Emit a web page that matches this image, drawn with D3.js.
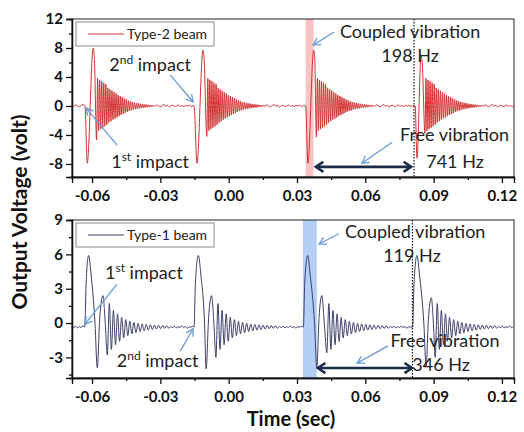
<!DOCTYPE html>
<html>
<head>
<meta charset="utf-8">
<script src="https://cdn.jsdelivr.net/npm/d3@7"></script>
<style>
  body { margin: 0; background: #fff; }
  text { font-family: Lato, "Open Sans", sans-serif; }
</style>
</head>
<body>
<div id="container"></div>
<script>
// ---- axis ticks ----
const xTicks = [-0.06, -0.03, 0.00, 0.03, 0.06, 0.09, 0.12];
const xMinor = [-0.045, -0.015, 0.015, 0.045, 0.075, 0.105];
const yTicksTop = [-8, -4, 0, 4, 8, 12];
const yMinorTop = [-6, -2, 2, 6, 10];
const yTicksBottom = [-3, 0, 3, 6, 9];
const yMinorBottom = [-4.5, -1.5, 1.5, 4.5, 7.5];

// ---- Type-2 beam (top panel), volts vs seconds ----
const type2Starts = [-0.0631, -0.0152, 0.0338, 0.0819];
const type2Swings = [
  [[-0.0631, 0], [-0.0621, -7.9], [-0.0595, 8.0], [-0.0590, 6.8], [-0.0580, -4.7]],
  [[-0.0152, 0], [-0.0139, -7.9], [-0.0113, 7.7], [-0.0108, 6.6], [-0.0096, -4.2]],
  [[0.0338, 0], [0.0348, -7.9], [0.0373, 7.7], [0.0378, 6.6], [0.0385, -4.3]],
  [[0.0819, 0], [0.0827, -7.2], [0.0845, 7.0], [0.0850, 6.0], [0.0862, -3.8]]
];
// ringing peaks after each swing (fast free vibration)
const type2Ring = [3.8, -3.4, 3.6, -3.2, 3.4, -3.0, 3.2, -2.8, 3.0, -2.6,
  2.5, -2.3, 2.3, -2.1, 2.1, -1.9, 1.9, -1.75, 1.75, -1.6,
  1.5, -1.4, 1.35, -1.25, 1.2, -1.1, 1.05, -0.95, 0.9, -0.82,
  0.75, -0.7, 0.65, -0.6, 0.55, -0.5, 0.48, -0.44, 0.42, -0.38,
  0.36, -0.33, 0.3, -0.28, 0.26, -0.24, 0.22, -0.2, 0.19, -0.17,
  0.16, -0.14, 0.13, -0.12];
const type2Noise = [0.1, -0.05, 0.15, 0.0, -0.1, 0.05, 0.2, -0.05, 0.1, -0.15,
  0.05, 0.1, -0.1, 0.0, 0.15, -0.05, 0.05, -0.1, 0.1, 0.0,
  0.12, -0.08, 0.05, 0.15, -0.05, 0.08];
const type2Band = [0.0338, 0.0373];
const type2Dotted = 0.0814;
const type2Span = [0.0383, 0.0801, -8.4];

// ---- Type-1 beam (bottom panel) ----
const type1Starts = [-0.0632, -0.0152, 0.0328, 0.0808];
const type1Swings = [
  [[-0.0632, -0.35], [-0.0626, 3.5], [-0.0615, 5.9], [-0.0604, 4.2], [-0.0587, 0.0], [-0.0577, -3.9],
   [-0.0566, 0.5], [-0.0552, 2.4], [-0.0542, 0.0], [-0.0533, -2.8]],
  [[-0.0152, -0.35], [-0.0146, 3.5], [-0.0133, 5.9], [-0.0122, 4.2], [-0.0106, 0.0], [-0.0099, -4.0],
   [-0.0088, 0.5], [-0.0075, 2.4], [-0.0065, 0.0], [-0.0056, -3.0]],
  [[0.0328, -0.35], [0.0334, 3.5], [0.0347, 5.9], [0.0358, 4.2], [0.0377, 0.0], [0.0387, -3.9],
   [0.0397, 0.5], [0.0409, 2.4], [0.0420, 0.0], [0.0431, -2.6]],
  [[0.0808, -0.35], [0.0814, 3.5], [0.0827, 5.9], [0.0838, 4.2], [0.0857, 0.0], [0.0867, -3.8],
   [0.0877, 0.3], [0.0890, 2.2], [0.0899, 0.0], [0.0907, -3.0]]
];
const type1Ring = [1.7, -2.3, 1.1, -1.9, 0.8, -1.6, 0.5, -1.3, 0.3, -1.1, 0.15, -0.95, 0.05, -0.85,
  -0.02, -0.75, -0.08, -0.68, -0.12, -0.62, -0.15, -0.57, -0.18, -0.53, -0.2, -0.5, -0.22, -0.47,
  -0.24, -0.45];
const type1Noise = [-0.3, -0.4, -0.28, -0.42, -0.32, -0.38, -0.25, -0.4, -0.3, -0.45,
  -0.33, -0.36, -0.28, -0.4, -0.35, -0.3, -0.42, -0.32, -0.38, -0.34];
const type1Band = [0.0326, 0.0387];
const type1Dotted = 0.0807;
const type1Span = [0.0392, 0.0805, -3.93];

// ---- annotations (data coordinates) ----
const type2Labels = [
  { main: "Coupled vibration", t: 0.0797, v: 10.3 },
  { main: "198 Hz", t: 0.0797, v: 7.0 },
  { main: "Free vibration", t: 0.0992, v: -4.0 },
  { main: "741 Hz", t: 0.0994, v: -7.7 },
  { main: "2", sup: "nd", tail: " impact", t: -0.0345, v: 5.65 },
  { main: "1", sup: "st", tail: " impact", t: -0.0345, v: -7.7 }
];
const type2Arrows = [
  [[-0.0257, 4.3], [-0.0156, 0.55]],
  [[-0.0490, -5.4], [-0.0626, -0.3]],
  [[0.0463, 10.2], [0.0371, 8.4]],
  [[0.0718, -5.0], [0.0585, -7.9]]
];
const type1Labels = [
  { main: "Coupled vibration", t: 0.0819, v: 8.0 },
  { main: "119 Hz", t: 0.0805, v: 5.85 },
  { main: "Free vibration", t: 0.0950, v: -1.5 },
  { main: "346 Hz", t: 0.0933, v: -3.6 },
  { main: "1", sup: "st", tail: " impact", t: -0.0372, v: 4.37 },
  { main: "2", sup: "nd", tail: " impact", t: -0.0312, v: -3.3 }
];
const type1Arrows = [
  [[-0.0490, 3.4], [-0.0631, -0.1]],
  [[-0.0213, -2.45], [-0.0156, -0.5]],
  [[0.0484, 7.8], [0.0397, 6.9]],
  [[0.0700, -2.0], [0.0564, -3.5]]
];

// ---- build one signal trace from the read values ----
function buildSignal(starts, swings, ring, half, noise, step, t0, t1) {
  const pts = [];
  let t = t0;
  const fill = (until) => {
    let k = 0;
    while (t < until - step * 0.5 && k < noise.length) {
      pts.push([t, noise[k]]);
      t += step; k++;
    }
  };
  starts.forEach((s, i) => {
    fill(s);
    swings[i].forEach(p => pts.push(p));
    const last = swings[i][swings[i].length - 1][0];
    ring.forEach((v, j) => pts.push([last + (j + 1) * half, v]));
    t = last + (ring.length + 1) * half;
  });
  fill(t1 + step);
  return pts;
}

const W = 524, H = 432;
const left = 72, right = 514;
const svg = d3.select("#container").append("svg")
    .attr("width", W).attr("height", H);

const x = d3.scaleLinear().domain([-0.0688, 0.1253]).range([left, right]);

const panels = [
  { top: 19, bottom: 177, yDomain: [-9.8, 12], yTicks: yTicksTop, yMinor: yMinorTop,
    data: buildSignal(type2Starts, type2Swings, type2Ring, 0.00045, type2Noise, 0.0008, -0.0688, 0.1253),
    color: "#d23232", legend: "Type-2 beam", band: type2Band, bandColor: "#f7c3c5",
    dotted: type2Dotted, span: type2Span, labels: type2Labels, arrows: type2Arrows },
  { top: 220, bottom: 378, yDomain: [-4.8, 9], yTicks: yTicksBottom, yMinor: yMinorBottom,
    data: buildSignal(type1Starts, type1Swings, type1Ring, 0.0009, type1Noise, 0.0008, -0.0688, 0.1253),
    color: "#3d3d6b", legend: "Type-1 beam", band: type1Band, bandColor: "#b3cff3",
    dotted: type1Dotted, span: type1Span, labels: type1Labels, arrows: type1Arrows }
];

function head(g, p0, p1, len, ang, color, width) {
  const a = Math.atan2(p1[1] - p0[1], p1[0] - p0[0]);
  const d = [-ang, ang].map(o => [p1[0] - len * Math.cos(a + o), p1[1] - len * Math.sin(a + o)]);
  g.append("path")
      .attr("d", `M${d[0][0]},${d[0][1]}L${p1[0]},${p1[1]}L${d[1][0]},${d[1][1]}`)
      .attr("fill", "none").attr("stroke", color).attr("stroke-width", width)
      .attr("stroke-linejoin", "miter");
}

panels.forEach((p, i) => {
  const y = d3.scaleLinear().domain(p.yDomain).range([p.bottom, p.top]);
  const g = svg.append("g");

  g.append("clipPath").attr("id", "clip" + i)
    .append("rect").attr("x", left).attr("y", p.top)
      .attr("width", right - left).attr("height", p.bottom - p.top);

  // highlight band
  g.append("rect")
      .attr("x", x(p.band[0])).attr("y", p.top)
      .attr("width", x(p.band[1]) - x(p.band[0])).attr("height", p.bottom - p.top)
      .attr("fill", p.bandColor);

  // signal
  const line = d3.line().x(d => x(d[0])).y(d => y(d[1])).curve(d3.curveMonotoneX);
  g.append("path").datum(p.data)
      .attr("clip-path", `url(#clip${i})`)
      .attr("d", line)
      .attr("fill", "none").attr("stroke", p.color).attr("stroke-width", 1);

  // dotted marker
  g.append("line")
      .attr("x1", x(p.dotted)).attr("x2", x(p.dotted))
      .attr("y1", p.top).attr("y2", p.bottom)
      .attr("stroke", "#111").attr("stroke-width", 1.2).attr("stroke-dasharray", "1.5,1.5");

  // frame
  g.append("rect")
      .attr("x", left).attr("y", p.top)
      .attr("width", right - left).attr("height", p.bottom - p.top)
      .attr("fill", "none").attr("stroke", "#222").attr("stroke-width", 1);

  // axes
  g.append("g").attr("transform", `translate(0,${p.bottom})`)
      .call(d3.axisBottom(x).tickValues(xTicks).tickSize(6).tickPadding(7)
        .tickFormat(d => d.toFixed(2)));
  g.append("g").attr("transform", `translate(0,${p.bottom})`)
      .call(d3.axisBottom(x).tickValues(xMinor).tickSize(3).tickFormat(""));
  g.append("g").attr("transform", `translate(${left},0)`)
      .call(d3.axisLeft(y).tickValues(p.yTicks).tickSize(6).tickPadding(3)
        .tickFormat(d => String(d)));
  g.append("g").attr("transform", `translate(${left},0)`)
      .call(d3.axisLeft(y).tickValues(p.yMinor).tickSize(3).tickFormat(""));
  g.selectAll(".domain").attr("stroke", "#111").attr("stroke-width", 1.3);
  g.selectAll(".tick line").attr("stroke", "#111").attr("stroke-width", 1.3);
  g.selectAll(".tick text")
      .attr("font-family", "Lato, sans-serif").attr("font-weight", "bold")
      .attr("font-size", 15).attr("fill", "#111");

  // legend
  const lg = g.append("g").attr("transform", `translate(${left + 4},${p.top + 3})`);
  lg.append("rect").attr("width", 138).attr("height", 24)
      .attr("fill", "#fff").attr("stroke", "#888").attr("stroke-width", 1);
  lg.append("line").attr("x1", 12).attr("x2", 48).attr("y1", 12).attr("y2", 12)
      .attr("stroke", p.color).attr("stroke-width", 1);
  lg.append("text").attr("x", 51).attr("y", 12).attr("dy", "0.35em")
      .attr("font-size", 14).attr("fill", "#222").text(p.legend);

  // double arrow span
  const s0 = [x(p.span[0]), y(p.span[2])], s1 = [x(p.span[1]), y(p.span[2])];
  g.append("line").attr("x1", s0[0]).attr("x2", s1[0]).attr("y1", s0[1]).attr("y2", s1[1])
      .attr("stroke", "#1c2b48").attr("stroke-width", 2.6);
  head(g, s0, s1, 9, 0.6, "#1c2b48", 2.6);
  head(g, s1, s0, 9, 0.6, "#1c2b48", 2.6);

  // blue pointer arrows
  p.arrows.forEach(a => {
    const a0 = [x(a[0][0]), y(a[0][1])], a1 = [x(a[1][0]), y(a[1][1])];
    g.append("line").attr("x1", a0[0]).attr("y1", a0[1]).attr("x2", a1[0]).attr("y2", a1[1])
        .attr("stroke", "#6a9ad3").attr("stroke-width", 1.3);
    head(g, a0, a1, 8, 0.5, "#6a9ad3", 1.3);
  });

  // labels
  p.labels.forEach(l => {
    const t = g.append("text")
        .attr("x", x(l.t)).attr("y", y(l.v)).attr("dy", "0.35em")
        .attr("text-anchor", "middle").attr("font-size", 18).attr("fill", "#222");
    t.append("tspan").text(l.main);
    if (l.sup) {
      t.append("tspan").attr("font-size", 12).attr("dy", -7).text(l.sup);
      t.append("tspan").attr("dy", 7).text(l.tail);
    }
  });
});

// axis titles
svg.append("text")
    .attr("transform", "translate(27,212) rotate(-90)")
    .attr("text-anchor", "middle").attr("font-weight", "bold").attr("font-size", 21)
    .attr("fill", "#111").text("Output Voltage (volt)");
svg.append("text")
    .attr("x", 291).attr("y", 426)
    .attr("text-anchor", "middle").attr("font-weight", "bold").attr("font-size", 20)
    .attr("fill", "#111").text("Time (sec)");
</script>
</body>
</html>
